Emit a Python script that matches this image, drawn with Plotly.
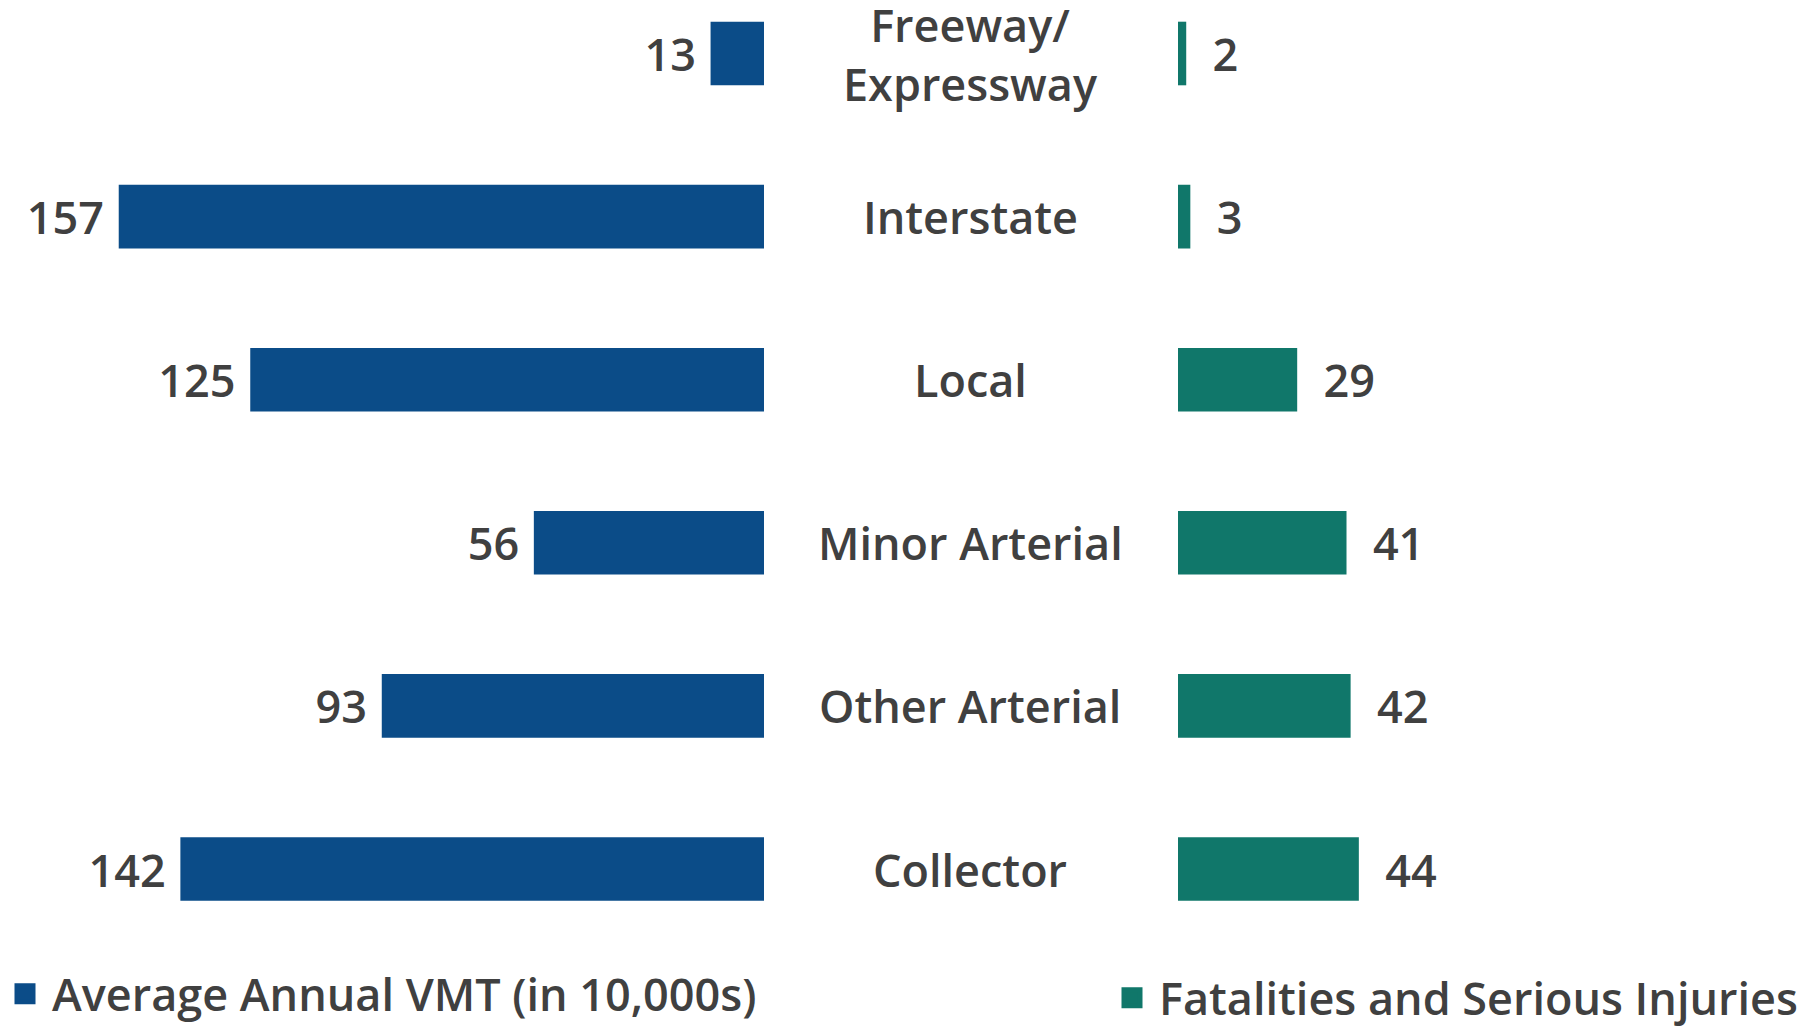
import plotly.graph_objects as go

categories = ["Freeway/<br>Expressway", "Interstate", "Local", "Minor Arterial", "Other Arterial", "Collector"]
vmt = [13, 157, 125, 56, 93, 142]
fsi = [2, 3, 29, 41, 42, 44]
series_names = ["Average Annual VMT (in 10,000s)", "Fatalities and Serious Injuries"]

BLUE = "#0B4C88"
TEAL = "#10776A"
TEXT = "#404040"
FONT = "Open Sans"
FS = 45
WEIGHT = 600

W, H = 1820, 1030
PX_PER_UNIT = 4.11
left_end = 764
right_start = 1178

fnt = dict(family=FONT, size=FS, color=TEXT, weight=WEIGHT)

fig = go.Figure()
fig.add_trace(go.Bar(
    y=categories, x=vmt, orientation="h", name=series_names[0], showlegend=False,
    marker=dict(color=BLUE, line=dict(width=0)), xaxis="x", yaxis="y",
    text=[f"{v} " for v in vmt], textposition="outside", cliponaxis=False,
    textfont=fnt, width=0.39,
))
fig.add_trace(go.Bar(
    y=categories, x=fsi, orientation="h", name=series_names[1], showlegend=False,
    marker=dict(color=TEAL, line=dict(width=0)), xaxis="x2", yaxis="y",
    text=[f"  {v}" for v in fsi], textposition="outside", cliponaxis=False,
    textfont=fnt, width=0.39,
))

# legend entries (one legend per series, as in the reference)
for name, col, lg in [(series_names[0], BLUE, "legend"), (series_names[1], TEAL, "legend2")]:
    fig.add_trace(go.Scatter(
        x=[None], y=[None], mode="markers", name=name, legend=lg,
        marker=dict(symbol="square", size=16, color=col, line=dict(color=col, width=5)),
        xaxis="x", yaxis="y",
    ))

for c in categories:
    fig.add_annotation(
        x=970 / W, xref="paper", y=c, yref="y", text=c, showarrow=False,
        font=fnt, xanchor="center", yanchor="middle",
    )

row_px = 163.1
first_center = 53.5
plot_bottom = 940
y_top = -first_center / row_px
y_bot = (plot_bottom - first_center) / row_px

leg_common = dict(orientation="h", yanchor="middle", xanchor="left",
                  font=fnt, itemsizing="trace", itemwidth=44,
                  bgcolor="rgba(0,0,0,0)")

fig.update_layout(
    width=W, height=H,
    margin=dict(l=0, r=0, t=0, b=H - plot_bottom, autoexpand=False),
    paper_bgcolor="white", plot_bgcolor="white",
    barmode="overlay",
    font=fnt,
    xaxis=dict(domain=[0, left_end / W], range=[left_end / PX_PER_UNIT, 0],
               visible=False, fixedrange=True),
    xaxis2=dict(domain=[right_start / W, 1], range=[0, (W - right_start) / PX_PER_UNIT],
                visible=False, fixedrange=True),
    yaxis=dict(categoryorder="array", categoryarray=categories,
               range=[y_bot, y_top], visible=False, fixedrange=True),
    showlegend=True,
    legend=dict(x=-2 / W, y=-54 / plot_bottom, **leg_common),
    legend2=dict(x=1105 / W, y=-58 / plot_bottom, **leg_common),
)

fig.write_html("out.html", config={"displayModeBar": False},
               post_script="document.body.style.margin='0';document.body.style.overflow='hidden';")
